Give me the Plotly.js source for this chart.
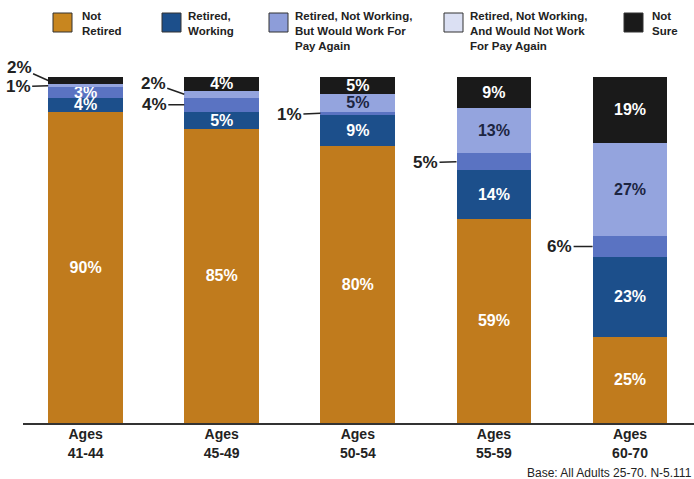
<!DOCTYPE html>
<html>
<head>
<meta charset="utf-8">
<script src="https://cdn.plot.ly/plotly-3.0.1.min.js"></script>
<style>html,body{margin:0;padding:0;background:#fff;}#chart{width:694px;height:479px;}</style>
</head>
<body>
<div id="chart"></div>
<script>
// ---- data ----
const ageGroups = ['41-44', '45-49', '50-54', '55-59', '60-70'];
const seriesNames = ['Not Retired', 'Retired, Working', 'Retired, Not Working, But Would Work For Pay Again', 'Retired, Not Working, And Would Not Work For Pay Again', 'Not Sure'];
const notRetired = [90, 85, 80, 59, 25];
const retiredWorking = [4, 5, 9, 14, 23];
const notWorkingSmall = [3, 4, 1, 5, 6];
const notWorkingLarge = [1, 2, 5, 13, 27];
const notSure = [2, 4, 5, 9, 19];
const legendLabels = ['Not<br>Retired', 'Retired,<br>Working', 'Retired, Not Working,<br>But Would Work For<br>Pay Again', 'Retired, Not Working,<br>And Would Not Work<br>For Pay Again', 'Not<br>Sure'];
const baseNote = 'Base: All Adults 25-70. N-5.111';

// ---- styling ----
const series = [notRetired, retiredWorking, notWorkingSmall, notWorkingLarge, notSure];
const barColors = ['#c07b1d', '#1c4f8b', '#5a73c2', '#94a4de', '#1a1a1a'];
const legendColors = ['#c8861f', '#1c4f8b', '#8d9dd9', '#dbe0f3', '#1a1a1a'];
const textColors = ['#ffffff', '#ffffff', '#ffffff', '#1c2541', '#ffffff'];
// outside labels: [seriesIndex, groupIndex, ax, ay]
const outside = [[4,0,-29,-13],[3,0,-30,1],[3,1,-31,-11],[2,1,-30,0],[2,2,-31,1],[2,3,-31,1],[2,4,-33,0]];
const isOutside = (s,i) => outside.some(o => o[0]===s && o[1]===i);
const barWidth = 0.55;
const W = 694, H = 479, L = 23, R = 0, T = 77, B = 56;
const px2x = px => (px - L) / (W - L - R);
const py2y = py => (H - B - py) / (H - T - B);
const labelFont = "'Liberation Sans Narrow', 'Liberation Sans', Arial, sans-serif";
const mainFont = "'Liberation Sans', Arial, sans-serif";

const traces = series.map((vals, s) => ({
  type: 'bar',
  name: seriesNames[s],
  x: ageGroups,
  y: vals,
  width: barWidth,
  marker: {color: barColors[s], line: {width: 0}},
  text: vals.map((v, i) => isOutside(s, i) ? '' : v + '%'),
  textposition: 'inside',
  insidetextanchor: 'middle',
  constraintext: 'none',
  textangle: 0,
  textfont: {family: mainFont, size: 16, color: textColors[s], weight: 'bold'},
  hoverinfo: 'skip',
  showlegend: false
}));

const annotations = [];
outside.forEach(([s, i, ax, ay]) => {
  let base = 0;
  for (let k = 0; k < s; k++) base += series[k][i];
  annotations.push({
    x: i - barWidth / 2, y: base + series[s][i] / 2, xref: 'x', yref: 'y',
    text: series[s][i] + '%', showarrow: true, arrowhead: 0, arrowwidth: 1.5, arrowcolor: '#222',
    ax: ax, ay: ay, standoff: 0, startstandoff: 1, borderpad: 0,
    font: {family: mainFont, size: 17, color: '#222', weight: 'bold'}
  });
});

// custom legend
const swatchX = [53, 162, 269, 444, 624];
const textX = [81, 187, 294, 469, 651];
const shapes = [];
legendLabels.forEach((lab, k) => {
  shapes.push({type: 'rect', xref: 'paper', yref: 'paper',
    x0: px2x(swatchX[k]), x1: px2x(swatchX[k] + 19), y0: py2y(13), y1: py2y(32),
    fillcolor: legendColors[k], line: {color: '#333', width: 1}});
  annotations.push({xref: 'paper', yref: 'paper', x: px2x(textX[k]), y: py2y(9),
    xanchor: 'left', yanchor: 'top', align: 'left', showarrow: false, borderpad: 0,
    text: lab, font: {family: labelFont, size: 11.5, color: '#222', weight: 'bold'}});
});
annotations.push({xref: 'paper', yref: 'paper', x: 1, y: py2y(473), xanchor: 'right', yanchor: 'middle',
  showarrow: false, text: baseNote, font: {family: mainFont, size: 12, color: '#222'}});

const layout = {
  width: W, height: H,
  margin: {l: L, r: R, t: T, b: B, pad: 0},
  barmode: 'stack',
  paper_bgcolor: '#fff', plot_bgcolor: '#fff',
  showlegend: false,
  xaxis: {type: 'category', range: [-0.46, 4.47], showline: true, linecolor: '#333', linewidth: 1.5,
    ticks: '', showgrid: false, zeroline: false, fixedrange: true, ticklabelstandoff: -2,
    tickvals: ageGroups, ticktext: ageGroups.map(a => 'Ages<br>' + a),
    tickfont: {family: mainFont, size: 14, color: '#222', weight: 'bold'}},
  yaxis: {range: [0, 100], visible: false, fixedrange: true},
  annotations: annotations,
  shapes: shapes
};

Plotly.newPlot('chart', traces, layout, {displayModeBar: false, staticPlot: true});
</script>
</body>
</html>
